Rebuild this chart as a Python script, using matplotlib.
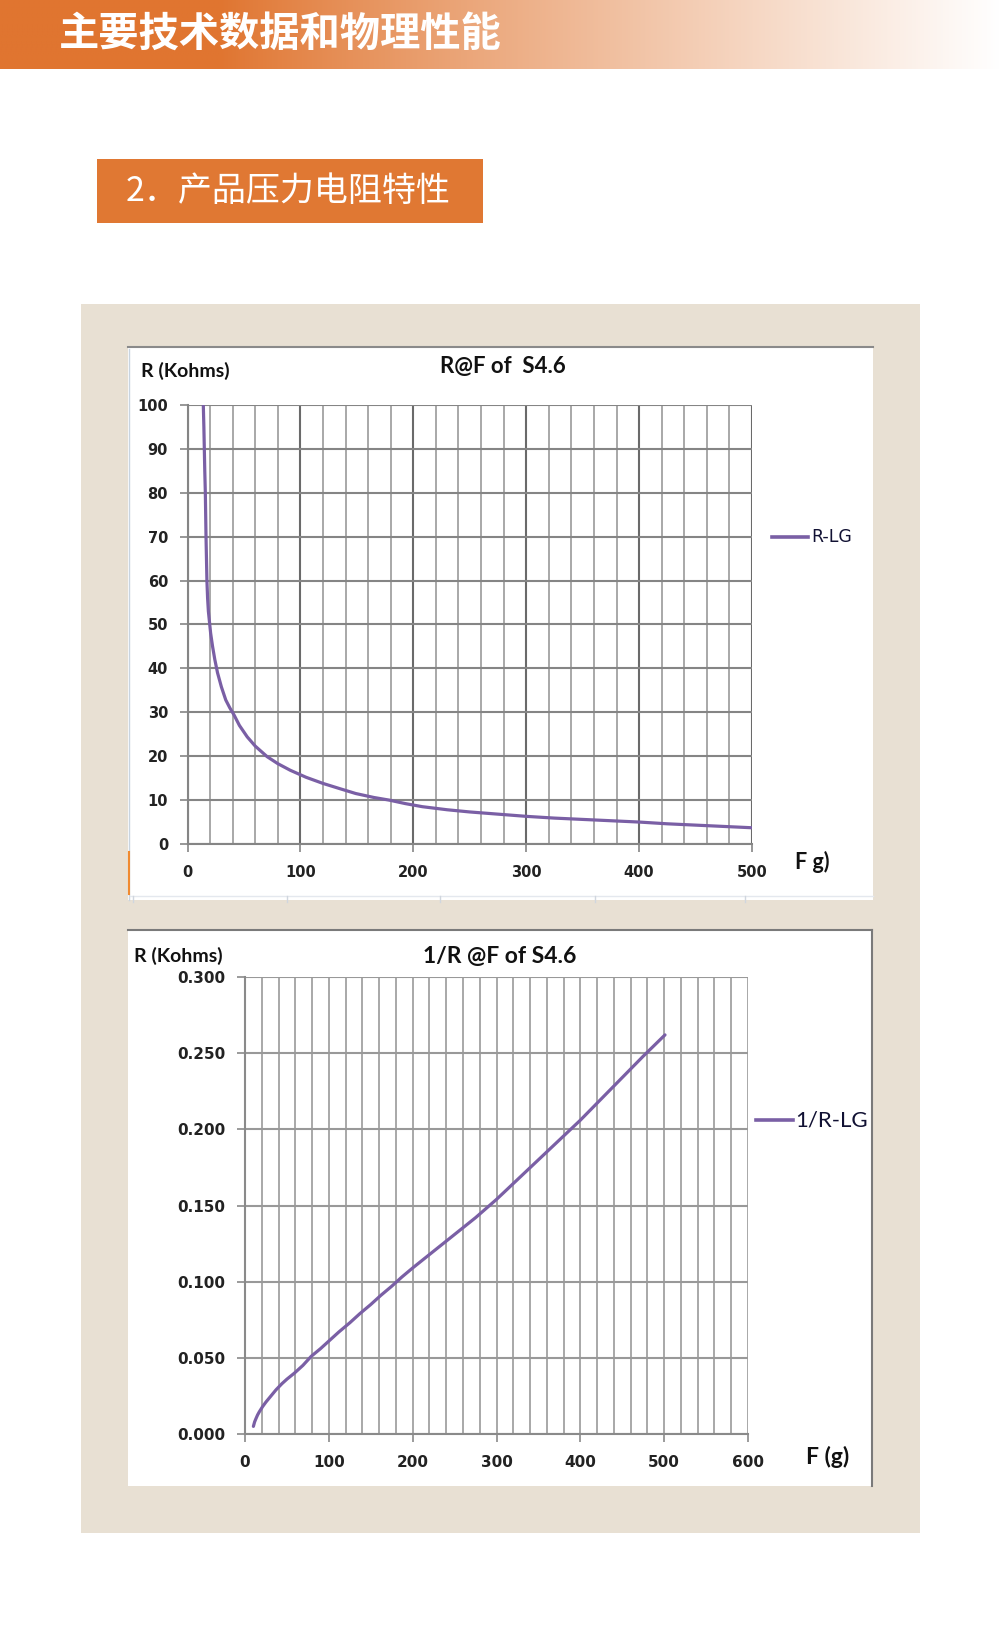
import numpy as np
import matplotlib
matplotlib.use("Agg")
import matplotlib.pyplot as plt
from matplotlib.patches import Rectangle

W, H = 1000, 1626

# page texts
page_title = "主要技术数据和物理性能"
section_title = "2．产品压力电阻特性"

# chart 1: R vs F
f1 = [14, 14.5, 14.9, 15.3, 15.8, 16.1, 16.4, 16.8, 17.2, 17.8, 18.5, 19.3,
      20.5, 22.2, 24.2, 26.6, 30, 33.9, 37.5, 41.2, 46, 52.9, 60, 70.5, 80,
      91, 105, 120, 135, 149, 165, 178.6, 193, 208, 230, 250, 275, 300, 325,
      350, 375, 400, 425, 450, 475, 500]
r1 = [100, 95, 90, 85, 80, 75, 70, 65, 60, 56, 53, 51,
      48, 45, 42, 39, 35.8, 32.8, 31, 29.4, 27, 24.4, 22.3, 19.9, 18.3,
      16.8, 15.2, 13.8, 12.6, 11.5, 10.6, 10.0, 9.2, 8.5, 7.8, 7.3, 6.8, 6.3, 5.9,
      5.6, 5.3, 5.0, 4.6, 4.3, 4.0, 3.7]
title1 = "R@F of  S4.6"
legend1 = "R-LG"

# chart 2: 1/R vs F
f2 = [10, 11.5, 13, 15, 17, 21, 25, 31, 37, 44, 50, 59, 69, 79, 90, 100, 112,
      125, 137, 150, 162, 175, 187, 200, 225, 250, 275, 300, 325, 350, 375,
      400, 425, 450, 475, 501]
g2 = [0.005, 0.008, 0.010, 0.0125, 0.0145, 0.018, 0.021, 0.025, 0.029, 0.033,
      0.036, 0.040, 0.045, 0.051, 0.056, 0.061, 0.067, 0.073, 0.079, 0.085,
      0.091, 0.097, 0.103, 0.109, 0.120, 0.131, 0.142, 0.154, 0.167, 0.180,
      0.193, 0.206, 0.220, 0.234, 0.248, 0.262]
title2 = "1/R @F of S4.6"
legend2 = "1/R-LG"

ylabel = "R (Kohms)"
xlabel1 = "F g)"
xlabel2 = "F (g)"

orange = "#E07833"
beige = "#E8E0D3"
purple = "#7A5FA5"
cjk = ["Noto Sans CJK SC", "DejaVu Sans"]

fig = plt.figure(figsize=(W / 100, H / 100), dpi=100)
fig.patch.set_facecolor("white")

bg = fig.add_axes([0, 0, 1, 1])
bg.set_xlim(0, W)
bg.set_ylim(H, 0)
bg.axis("off")

# top gradient band
grad = np.linspace(0, 1, 600)
c0 = np.array([0xE0, 0x75, 0x30]) / 255
c1 = np.array([0xFF, 0xFF, 0xFF]) / 255
t = np.clip((grad - 0.22) / 0.78, 0, 1) ** 0.9
band = c0[None, :] * (1 - t[:, None]) + c1[None, :] * t[:, None]
bg.imshow(band[None, :, :], extent=(0, 1000, 69, 0), aspect="auto", zorder=1)
bg.text(59, 34, page_title, color="white", fontsize=29, fontweight="bold",
        family=cjk, va="center", ha="left", zorder=3)

# section box
bg.add_patch(Rectangle((97, 159), 386, 64, facecolor=orange, edgecolor="none", zorder=2))
bg.text(126, 191, section_title, color="white", fontsize=24.5, family=cjk,
        va="center", ha="left", zorder=3)

# beige panel with two white chart areas
bg.add_patch(Rectangle((81, 304), 839, 1229, facecolor=beige, edgecolor="none", zorder=1))
bg.add_patch(Rectangle((128, 347), 745, 553, facecolor="white", edgecolor="none", zorder=2))
bg.add_patch(Rectangle((128, 930), 744, 556, facecolor="white", edgecolor="none", zorder=2))
bg.plot([128, 873], [347, 347], color="#8a8a8a", lw=1.5, zorder=3)
bg.plot([128, 872], [930, 930], color="#7a7a7a", lw=1.5, zorder=3)
bg.plot([872, 872], [930, 1486], color="#7a7a7a", lw=1.5, zorder=3)
bg.plot([129, 129], [349, 900], color="#c8d4e0", lw=1, zorder=3)
bg.plot([129, 129], [852, 894], color="#F08A30", lw=1.5, zorder=3)
bg.plot([130, 873], [896, 896], color="#e4e8ee", lw=1, zorder=3)
for xs in [133, 287, 440, 595, 745]:
    bg.plot([xs, xs], [896, 902], color="#d0d6de", lw=1, zorder=3)


def px_axes(x0, x1, y0, y1):
    return fig.add_axes([x0 / W, 1 - y1 / H, (x1 - x0) / W, (y1 - y0) / H])


# ---------- chart 1 ----------
ax1 = px_axes(187.5, 752, 405, 844)
ax1.set_xlim(0, 500)
ax1.set_ylim(0, 100)
ax1.set_xticks(np.arange(0, 501, 100))
ax1.set_xticks(np.arange(0, 501, 20), minor=True)
ax1.set_yticks(np.arange(0, 101, 10))
ax1.grid(which="minor", axis="x", color="#a8a8a8", lw=1.4)
ax1.grid(which="major", axis="x", color="#6a6a6a", lw=1.5)
ax1.grid(which="major", axis="y", color="#858585", lw=1.5)
ax1.set_axisbelow(True)
ax1.plot(f1, r1, color=purple, lw=2.3, solid_capstyle="round",
         solid_joinstyle="round", zorder=5)
ax1.tick_params(axis="both", which="major", direction="out", length=6,
                color="#858585", width=1.2, labelsize=10.5, labelcolor="#222222")
ax1.tick_params(axis="x", pad=9)
ax1.tick_params(axis="y", pad=8)
ax1.tick_params(which="minor", length=0)
for lab in ax1.get_xticklabels() + ax1.get_yticklabels():
    lab.set_fontweight("bold")
for s in ["top", "right"]:
    ax1.spines[s].set_visible(False)
for s in ["left", "bottom"]:
    ax1.spines[s].set_color("#858585")
    ax1.spines[s].set_linewidth(1.5)

bg.text(503, 366, title1, fontsize=16, fontweight="bold", family="Lato",
        ha="center", va="center", color="#111111", zorder=4)
bg.text(141, 371, ylabel, fontsize=14, fontweight="bold", family="Lato",
        ha="left", va="center", color="#111111", zorder=4)
bg.text(795, 862, xlabel1, fontsize=15.5, fontweight="bold", family="Lato",
        ha="left", va="center", color="#111111", zorder=4)
bg.plot([772, 808], [537, 537], color=purple, lw=2.6, zorder=4)
bg.text(811, 537, legend1, fontsize=12.5, family="DejaVu Sans",
        ha="left", va="center", color="#111133", zorder=4)

# ---------- chart 2 ----------
ax2 = px_axes(245, 748, 977, 1434)
ax2.set_xlim(0, 600)
ax2.set_ylim(0, 0.3)
ax2.set_xticks(np.arange(0, 601, 100))
ax2.set_xticks(np.arange(0, 601, 20), minor=True)
ax2.set_yticks(np.arange(0, 0.301, 0.05))
ax2.set_yticklabels(["%.3f" % v for v in np.arange(0, 0.301, 0.05)])
ax2.grid(which="both", axis="x", color="#a8a8a8", lw=1.4)
ax2.grid(which="major", axis="y", color="#999999", lw=1.5)
ax2.set_axisbelow(True)
ax2.plot(f2, g2, color=purple, lw=2.3, solid_capstyle="round",
         solid_joinstyle="round", zorder=5)
ax2.tick_params(axis="both", which="major", direction="out", length=6,
                color="#8a8a8a", width=1.2, labelsize=11, labelcolor="#222222")
ax2.tick_params(axis="x", pad=9)
ax2.tick_params(axis="y", pad=8)
ax2.tick_params(which="minor", length=0)
for lab in ax2.get_xticklabels() + ax2.get_yticklabels():
    lab.set_fontweight("bold")
for s in ["top", "right"]:
    ax2.spines[s].set_visible(False)
for s in ["left", "bottom"]:
    ax2.spines[s].set_color("#8a8a8a")
    ax2.spines[s].set_linewidth(1.5)

bg.text(500, 956, title2, fontsize=16.5, fontweight="bold", family="Lato",
        ha="center", va="center", color="#111111", zorder=4)
bg.text(134, 956, ylabel, fontsize=14, fontweight="bold", family="Lato",
        ha="left", va="center", color="#111111", zorder=4)
bg.text(806, 1457, xlabel2, fontsize=16.5, fontweight="bold", family="Lato",
        ha="left", va="center", color="#111111", zorder=4)
bg.plot([756, 793], [1120, 1120], color=purple, lw=2.6, zorder=4)
bg.text(795, 1120, legend2, fontsize=16, family="Lato",
        ha="left", va="center", color="#111133", zorder=4)

fig.savefig("out.png", dpi=100)
